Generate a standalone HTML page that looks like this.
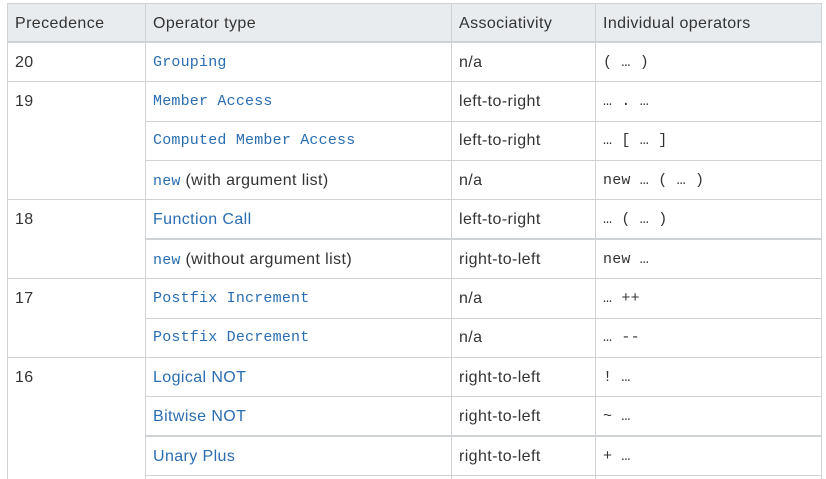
<!DOCTYPE html>
<html><head><meta charset="utf-8"><style>
body{margin:0;width:826px;height:479px;background:#fff;overflow:hidden;position:relative;font-family:"Liberation Sans",sans-serif;font-size:16px;letter-spacing:0.4px;color:#333}
.h{position:absolute;background:#cfd3d6}
.v{position:absolute;background:#cfd3d6;width:1px}
.t{position:absolute;white-space:nowrap;line-height:20px}
.m{font-family:"Liberation Mono",monospace;font-size:15px;letter-spacing:0.2px}
.l{color:#2a6db0}
</style></head><body>
<div style="position:absolute;left:7px;top:3px;width:815px;height:39px;background:#e9ecef"></div>
<div class="h" style="left:7px;top:3px;width:815px;height:1px"></div>
<div class="h" style="left:7px;top:41px;width:815px;height:2px"></div>
<div class="v" style="left:7px;top:3px;height:476px"></div>
<div class="v" style="left:145px;top:3px;height:476px"></div>
<div class="v" style="left:451px;top:3px;height:476px"></div>
<div class="v" style="left:595px;top:3px;height:476px"></div>
<div class="v" style="left:821px;top:3px;height:476px"></div>
<div class="h" style="left:7px;top:81px;width:815px;height:1px"></div>
<div class="h" style="left:145px;top:121px;width:677px;height:1px"></div>
<div class="h" style="left:145px;top:160px;width:677px;height:1px"></div>
<div class="h" style="left:7px;top:199px;width:815px;height:1px"></div>
<div class="h" style="left:145px;top:238px;width:677px;height:2px"></div>
<div class="h" style="left:7px;top:278px;width:815px;height:1px"></div>
<div class="h" style="left:145px;top:318px;width:677px;height:1px"></div>
<div class="h" style="left:7px;top:357px;width:815px;height:1px"></div>
<div class="h" style="left:145px;top:396px;width:677px;height:1px"></div>
<div class="h" style="left:145px;top:435px;width:677px;height:2px"></div>
<div class="h" style="left:145px;top:475px;width:677px;height:1px"></div>

<div class="t" style="left:15px;top:14px">Precedence</div>
<div class="t" style="left:153px;top:14px">Operator type</div>
<div class="t" style="left:459px;top:14px">Associativity</div>
<div class="t" style="left:603px;top:14px">Individual operators</div>

<div class="t" style="left:15px;top:53px">20</div>
<div class="t" style="left:15px;top:92px">19</div>
<div class="t" style="left:15px;top:210px">18</div>
<div class="t" style="left:15px;top:289px">17</div>
<div class="t" style="left:15px;top:368px">16</div>

<div class="t m l" style="left:153px;top:53px">Grouping</div>
<div class="t m l" style="left:153px;top:92px">Member Access</div>
<div class="t m l" style="left:153px;top:131px">Computed Member Access</div>
<div class="t" style="left:153px;top:171px"><span class="m l">new</span> (with argument list)</div>
<div class="t l" style="left:153px;top:210px">Function Call</div>
<div class="t" style="left:153px;top:250px"><span class="m l">new</span> (without argument list)</div>
<div class="t m l" style="left:153px;top:289px">Postfix Increment</div>
<div class="t m l" style="left:153px;top:328px">Postfix Decrement</div>
<div class="t l" style="left:153px;top:368px">Logical NOT</div>
<div class="t l" style="left:153px;top:407px">Bitwise NOT</div>
<div class="t l" style="left:153px;top:447px">Unary Plus</div>

<div class="t" style="left:459px;top:53px">n/a</div>
<div class="t" style="left:459px;top:92px">left-to-right</div>
<div class="t" style="left:459px;top:131px">left-to-right</div>
<div class="t" style="left:459px;top:171px">n/a</div>
<div class="t" style="left:459px;top:210px">left-to-right</div>
<div class="t" style="left:459px;top:250px">right-to-left</div>
<div class="t" style="left:459px;top:289px">n/a</div>
<div class="t" style="left:459px;top:328px">n/a</div>
<div class="t" style="left:459px;top:368px">right-to-left</div>
<div class="t" style="left:459px;top:407px">right-to-left</div>
<div class="t" style="left:459px;top:447px">right-to-left</div>

<div class="t m" style="left:603px;top:53px">( … )</div>
<div class="t m" style="left:603px;top:92px">… . …</div>
<div class="t m" style="left:603px;top:131px">… [ … ]</div>
<div class="t m" style="left:603px;top:171px">new … ( … )</div>
<div class="t m" style="left:603px;top:210px">… ( … )</div>
<div class="t m" style="left:603px;top:250px">new …</div>
<div class="t m" style="left:603px;top:289px">… ++</div>
<div class="t m" style="left:603px;top:328px">… --</div>
<div class="t m" style="left:603px;top:368px">! …</div>
<div class="t m" style="left:603px;top:407px">~ …</div>
<div class="t m" style="left:603px;top:447px">+ …</div>
</body></html>
